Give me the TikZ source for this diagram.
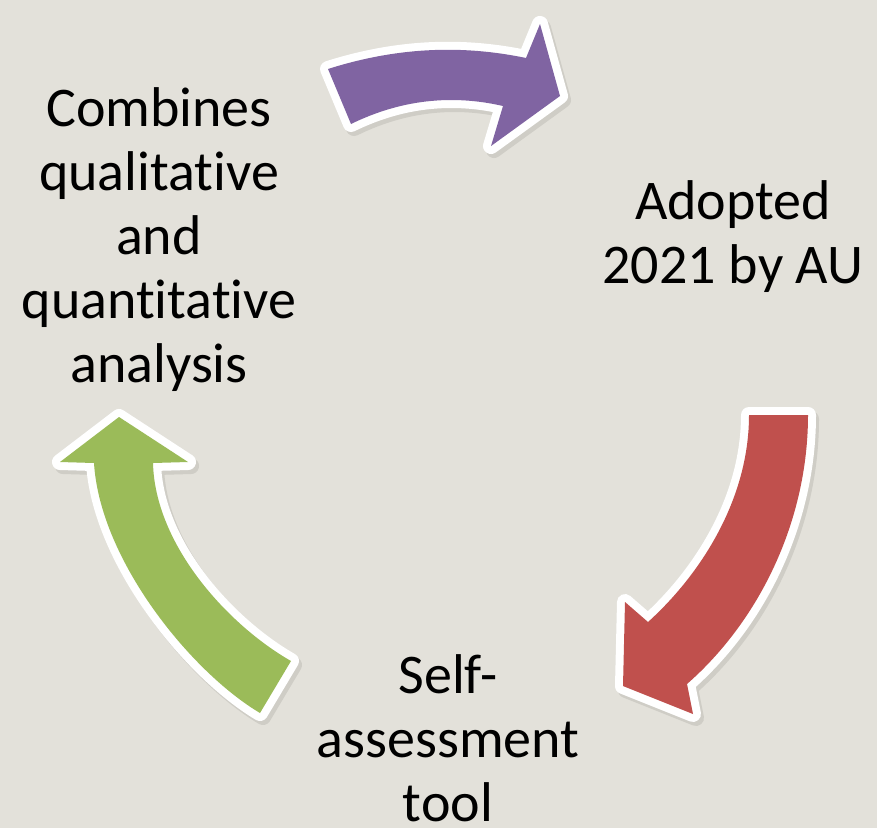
\documentclass[tikz,border=0pt]{standalone}
\usepackage{fontspec}
\setmainfont{Carlito}[Ligatures={NoCommon}]
\definecolor{bg}{HTML}{E3E1DA}
\definecolor{shadowc}{HTML}{CFCDC6}
\definecolor{cpurple}{HTML}{8064A2}
\definecolor{cred}{HTML}{C0504D}
\definecolor{cgreen}{HTML}{9BBB59}
\tikzset{
  rim/.style={draw=white, line width=16pt, line join=round},
  dropshadow/.style={draw=shadowc, fill=shadowc, line width=16pt, line join=round},
  lbl/.style={align=center, font=\fontsize{56}{64}\selectfont, inner sep=0pt, text=black},
  ppath/.style={insert path={(328,69) .. controls (394,48) and (459,44) .. (526,58)
      -- (540,24) -- (560,96) -- (491,146) -- (503,106)
      .. controls (451,94) and (400,100) .. (351,124) -- cycle}},
  rpath/.style={insert path={(749,415) -- (808,415) .. controls (808,520) and (760,620) .. (687,684)
      -- (693,714) -- (623,686) -- (625,602) -- (648,622)
      .. controls (700,575) and (749,500) .. (749,415) -- cycle}},
  gpath/.style={insert path={(119,417) -- (188,462) -- (153,463)
      .. controls (155,545) and (228,625) .. (291,661) -- (260,713)
      .. controls (191,672) and (100,560) .. (94,463) -- (60,462) -- cycle}},
}
\begin{document}
\begin{tikzpicture}[x=1pt,y=-1pt]
\fill[bg] (0,0) rectangle (877,828);
\useasboundingbox (0,0) rectangle (877,828);
% shadows
\begin{scope}[shift={(3,4)}]
  \path[dropshadow, ppath];
  \path[dropshadow, rpath];
  \path[dropshadow, gpath];
\end{scope}
% purple arrow
\path[rim, ppath];
\path[fill=cpurple, ppath];
% red arrow
\path[rim, rpath];
\path[fill=cred, rpath];
% green arrow
\path[rim, gpath];
\path[fill=cgreen, gpath];
% labels
\node[lbl, anchor=base] (combines) at (159,382) {Combines\\qualitative\\and\\quantitative\\analysis};
\node[lbl, anchor=base] (adopted) at (733,283) {Adopted\\2021 by AU};
\node[lbl, anchor=base] (selfassess) at (448,821) {Self-\\assessment\\tool};
\end{tikzpicture}
\end{document}
